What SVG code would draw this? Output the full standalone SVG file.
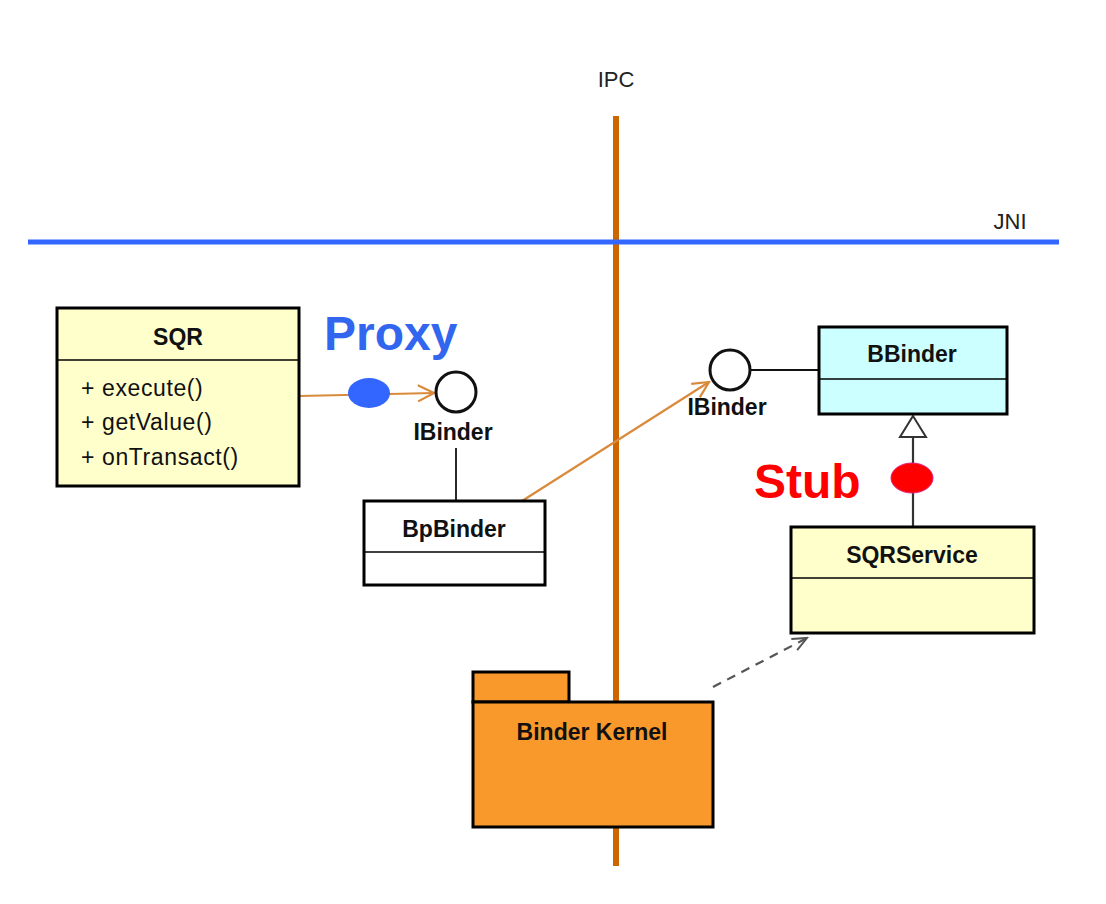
<svg xmlns="http://www.w3.org/2000/svg" width="1106" height="904" viewBox="0 0 1106 904">
<defs>
<style>
.box{stroke:#000;stroke-width:3}
.div{stroke:#000;stroke-width:1.5}
.name{font-family:"Liberation Sans",Arial,sans-serif;font-weight:bold;font-size:23px;fill:#111;text-anchor:middle}
.meth{font-family:"Liberation Sans",Arial,sans-serif;font-size:23px;fill:#111;letter-spacing:0.6px}
.lbl{font-family:"Liberation Sans",Arial,sans-serif;font-size:22px;fill:#222;text-anchor:middle}
.big{font-family:"Liberation Sans",Arial,sans-serif;font-weight:bold;font-size:48px}
.iface{fill:#fff;stroke:#111;stroke-width:3}
.orange{stroke:#D98A3A;stroke-width:2.2;fill:none}
</style>
<marker id="open" viewBox="0 0 20 20" refX="18" refY="10" markerWidth="20" markerHeight="20" markerUnits="userSpaceOnUse" orient="auto">
<path d="M2 2 L18 10 L2 18" fill="none" stroke="#D98A3A" stroke-width="2.2"/>
</marker>
<marker id="dash" viewBox="0 0 20 20" refX="18" refY="10" markerWidth="18" markerHeight="18" markerUnits="userSpaceOnUse" orient="auto">
<path d="M2 3 L18 10 L2 17" fill="none" stroke="#555" stroke-width="2.2"/>
</marker>
</defs>
<rect width="1106" height="904" fill="#fff"/>

<g id="boundaries">
<line x1="616" y1="116" x2="616" y2="866" stroke="#CC6600" stroke-width="6"/>
<text class="lbl" x="616" y="87">IPC</text>
<line x1="28" y1="242" x2="1059" y2="242" stroke="#3366FF" stroke-width="5"/>
<text class="lbl" x="1010" y="229">JNI</text>
</g>

<g id="connectors">
<line class="orange" x1="300" y1="396" x2="434" y2="393" marker-end="url(#open)"/>
<line class="orange" x1="522" y1="501" x2="709" y2="382" marker-end="url(#open)"/>
<line x1="456" y1="448" x2="456" y2="500" stroke="#111" stroke-width="1.8"/>
<line x1="751" y1="370" x2="818" y2="370" stroke="#111" stroke-width="1.8"/>
<line x1="913" y1="437" x2="913" y2="527" stroke="#333" stroke-width="2.2"/>
<path d="M913 416 L926 437 L900 437 Z" fill="#fff" stroke="#333" stroke-width="2"/>
<line x1="713" y1="687" x2="807" y2="638" stroke="#555" stroke-width="2.2" stroke-dasharray="9,7" marker-end="url(#dash)"/>
</g>

<g id="SQR">
<rect class="box" x="57" y="308" width="242" height="178" fill="#FFFFCC"/>
<line class="div" x1="57" y1="360" x2="299" y2="360"/>
<text class="name" x="178" y="345">SQR</text>
<text class="meth" x="81" y="396">+ execute()</text>
<text class="meth" x="81" y="430">+ getValue()</text>
<text class="meth" x="81" y="465">+ onTransact()</text>
</g>

<g id="proxy">
<text class="big" x="324" y="350" fill="#3366EE">Proxy</text>
<ellipse cx="369" cy="393" rx="21" ry="15" fill="#3366FF"/>
</g>

<g id="IBinderLeft">
<circle class="iface" cx="456" cy="392" r="20"/>
<text class="name" x="453" y="440">IBinder</text>
</g>

<g id="BpBinder">
<rect class="box" x="364" y="501" width="181" height="84" fill="#fff"/>
<line class="div" x1="364" y1="552" x2="545" y2="552"/>
<text class="name" x="454" y="537">BpBinder</text>
</g>

<g id="IBinderRight">
<circle class="iface" cx="730" cy="370" r="20"/>
<text class="name" x="727" y="415">IBinder</text>
</g>

<g id="BBinder">
<rect class="box" x="819" y="327" width="188" height="87" fill="#CCFFFF"/>
<line class="div" x1="819" y1="379" x2="1007" y2="379"/>
<text class="name" x="912" y="362">BBinder</text>
</g>

<g id="stub">
<text class="big" x="754" y="498" fill="#FF0000">Stub</text>
<ellipse cx="912" cy="478" rx="21" ry="15" fill="#FF0000" stroke="#E0207A" stroke-width="1"/>
</g>

<g id="SQRService">
<rect class="box" x="791" y="527" width="243" height="106" fill="#FFFFCC"/>
<line class="div" x1="791" y1="578" x2="1034" y2="578"/>
<text class="name" x="912" y="563">SQRService</text>
</g>

<g id="BinderKernel">
<rect class="box" x="473" y="672" width="96" height="30" fill="#F9982B"/>
<rect class="box" x="473" y="702" width="240" height="125" fill="#F9982B"/>
<text class="name" x="592" y="740">Binder Kernel</text>
</g>
</svg>
